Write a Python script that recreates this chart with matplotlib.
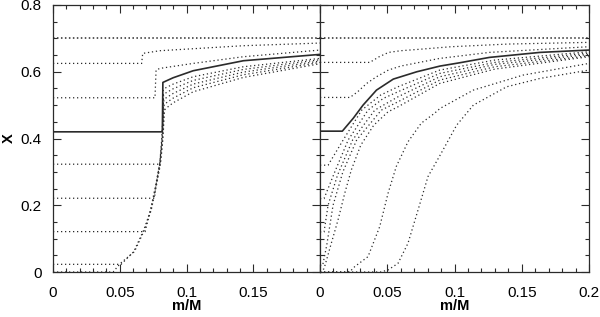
import matplotlib
matplotlib.use("Agg")
import matplotlib.pyplot as plt
from matplotlib.ticker import MultipleLocator, FixedLocator, FixedFormatter

plt.rcParams['font.family'] = ['Liberation Sans', 'DejaVu Sans']

# ---- left panel (sharp profiles) ----
left_top_x = [0.0, 0.2]
left_top_y = [0.70, 0.70]

left_62_x = [0.0, 0.0664, 0.0672, 0.080, 0.1426, 0.2]
left_62_y = [0.625, 0.625, 0.655, 0.663, 0.678, 0.686]

left_52_x = [0.0, 0.0764, 0.0772, 0.080, 0.105, 0.1426, 0.2]
left_52_y = [0.522, 0.522, 0.605, 0.610, 0.625, 0.645, 0.665]

left_solid_x = [0.0, 0.0819, 0.0823, 0.09, 0.105, 0.1426, 0.2]
left_solid_y = [0.420, 0.420, 0.568, 0.582, 0.603, 0.633, 0.652]

left_c1_x = [0.0, 0.0800, 0.0814, 0.0822, 0.0826, 0.0835, 0.09, 0.105, 0.1426, 0.2]
left_c1_y = [0.323, 0.323, 0.396, 0.455, 0.545, 0.550, 0.563, 0.585, 0.615, 0.640]

left_c2_x = [0.0, 0.0760, 0.0770, 0.0800, 0.0816, 0.0824, 0.0828, 0.0838, 0.09, 0.105, 0.1426, 0.2]
left_c2_y = [0.221, 0.221, 0.256, 0.326, 0.396, 0.455, 0.530, 0.535, 0.549, 0.574, 0.607, 0.636]

left_c3_x = [0.0, 0.0690, 0.0730, 0.0767, 0.0800, 0.0818, 0.0826, 0.0830, 0.0840, 0.09, 0.105, 0.1426, 0.2]
left_c3_y = [0.121, 0.121, 0.186, 0.256, 0.326, 0.396, 0.455, 0.515, 0.520, 0.535, 0.563, 0.599, 0.632]

left_c4_x = [0.0, 0.051, 0.0605, 0.068, 0.0733, 0.077, 0.0803, 0.0820, 0.0828, 0.0832, 0.0842, 0.09, 0.105, 0.1426, 0.2]
left_c4_y = [0.023, 0.023, 0.061, 0.126, 0.186, 0.256, 0.326, 0.396, 0.455, 0.500, 0.505, 0.521, 0.552, 0.591, 0.628]

left_c5_x = [0.0, 0.045, 0.0505, 0.0610, 0.0685, 0.0736, 0.0773, 0.0806, 0.0823, 0.0831, 0.0835, 0.0845, 0.09, 0.105, 0.1426, 0.2]
left_c5_y = [0.0, 0.0, 0.026, 0.061, 0.126, 0.186, 0.256, 0.326, 0.396, 0.455, 0.485, 0.490, 0.507, 0.540, 0.583, 0.624]

# ---- right panel (smoothed profiles) ----
right_top_x = [0.0, 0.2]
right_top_y = [0.70, 0.70]

right_62_x = [0.0, 0.037, 0.044, 0.051, 0.060, 0.073, 0.0976, 0.14, 0.2]
right_62_y = [0.628, 0.628, 0.645, 0.658, 0.663, 0.667, 0.675, 0.683, 0.688]

right_52_x = [0.0, 0.0223, 0.028, 0.0347, 0.042, 0.0508, 0.060, 0.089, 0.126, 0.2]
right_52_y = [0.523, 0.523, 0.540, 0.565, 0.585, 0.605, 0.617, 0.640, 0.658, 0.675]

right_solid_x = [0.0, 0.0166, 0.0248, 0.032, 0.042, 0.0545, 0.072, 0.0892, 0.104, 0.126, 0.1636, 0.2]
right_solid_y = [0.422, 0.422, 0.461, 0.500, 0.545, 0.578, 0.600, 0.617, 0.627, 0.643, 0.658, 0.665]

right_c1_x = [0.0, 0.006, 0.0173, 0.031, 0.045, 0.058, 0.089, 0.13, 0.2]
right_c1_y = [0.320, 0.320, 0.396, 0.485, 0.530, 0.555, 0.605, 0.635, 0.660]

right_c2_x = [0.0, 0.003, 0.011, 0.021, 0.0357, 0.047, 0.058, 0.089, 0.13, 0.2]
right_c2_y = [0.220, 0.220, 0.300, 0.396, 0.485, 0.520, 0.540, 0.595, 0.628, 0.656]

right_c3_x = [0.0, 0.003, 0.006, 0.013, 0.0243, 0.0407, 0.058, 0.089, 0.13, 0.2]
right_c3_y = [0.120, 0.120, 0.200, 0.290, 0.396, 0.485, 0.525, 0.585, 0.622, 0.652]

right_c4_x = [0.0, 0.002, 0.005, 0.0097, 0.017, 0.0273, 0.0456, 0.058, 0.089, 0.13, 0.2]
right_c4_y = [0.020, 0.020, 0.080, 0.200, 0.300, 0.396, 0.485, 0.510, 0.575, 0.615, 0.648]

right_c5_x = [0.0, 0.003, 0.0084, 0.0134, 0.0184, 0.0233, 0.0303, 0.040, 0.0506, 0.058, 0.089, 0.13, 0.2]
right_c5_y = [0.0, 0.010, 0.086, 0.156, 0.236, 0.306, 0.380, 0.440, 0.480, 0.495, 0.565, 0.608, 0.645]

right_f1_x = [0.0, 0.022, 0.0258, 0.0357, 0.0444, 0.0506, 0.0567, 0.0654, 0.0753, 0.0853, 0.0892, 0.114, 0.151, 0.2]
right_f1_y = [0.0, 0.0, 0.016, 0.046, 0.136, 0.236, 0.316, 0.390, 0.446, 0.476, 0.490, 0.545, 0.590, 0.625]

right_f2_x = [0.0, 0.045, 0.0506, 0.058, 0.0654, 0.0729, 0.0803, 0.090, 0.1016, 0.114, 0.1388, 0.1636, 0.2]
right_f2_y = [0.0, 0.0, 0.006, 0.026, 0.086, 0.186, 0.286, 0.355, 0.440, 0.500, 0.555, 0.580, 0.605]

x_ticks = [0, 0.05, 0.1, 0.15, 0.2]
x_labels_left = ["0", "0.05", "0.1", "0.15", ""]
x_labels_right = ["0", "0.05", "0.1", "0.15", "0.2"]
y_ticks = [0, 0.2, 0.4, 0.6, 0.8]
y_labels = ["0", "0.2", "0.4", "0.6", "0.8"]

ink = "#2b2b2b"
dot = dict(color=ink, lw=0.9, ls=(0, (1, 2.2)))
dense_dot = dict(color=ink, lw=1.1, ls=(0, (1, 1.6)))
solid = dict(color=ink, lw=1.2, ls="-")

fig = plt.figure(figsize=(6, 3.17), dpi=100)
axL = fig.add_axes([53 / 600, 1 - 272 / 317, 267 / 600, 267 / 317])
axR = fig.add_axes([320 / 600, 1 - 272 / 317, 269 / 600, 267 / 317])

left_dotted = [(left_62_x, left_62_y), (left_52_x, left_52_y),
               (left_c1_x, left_c1_y), (left_c2_x, left_c2_y), (left_c3_x, left_c3_y),
               (left_c4_x, left_c4_y), (left_c5_x, left_c5_y)]
right_dotted = [(right_62_x, right_62_y), (right_52_x, right_52_y),
                (right_c1_x, right_c1_y), (right_c2_x, right_c2_y), (right_c3_x, right_c3_y),
                (right_c4_x, right_c4_y), (right_c5_x, right_c5_y),
                (right_f1_x, right_f1_y), (right_f2_x, right_f2_y)]

for xs, ys in left_dotted:
    axL.plot(xs, ys, **dot)
axL.plot(left_top_x, left_top_y, **dense_dot)
axL.plot(left_solid_x, left_solid_y, **solid)

for xs, ys in right_dotted:
    axR.plot(xs, ys, **dot)
axR.plot(right_top_x, right_top_y, **dense_dot)
axR.plot(right_solid_x, right_solid_y, **solid)

for ax, xl in ((axL, x_labels_left), (axR, x_labels_right)):
    ax.set_xlim(0, 0.2)
    ax.set_ylim(0, 0.8)
    ax.xaxis.set_major_locator(FixedLocator(x_ticks))
    ax.xaxis.set_major_formatter(FixedFormatter(xl))
    ax.xaxis.set_minor_locator(MultipleLocator(0.01))
    ax.yaxis.set_major_locator(FixedLocator(y_ticks))
    ax.yaxis.set_minor_locator(MultipleLocator(0.05))
    ax.tick_params(which="both", direction="in", top=True, right=True,
                   color=ink, width=0.8, labelsize=11)
    ax.tick_params(axis="x", pad=10)
    ax.tick_params(axis="y", pad=8)
    ax.tick_params(which="major", length=6)
    ax.tick_params(which="minor", length=3)
    for s in ax.spines.values():
        s.set_color(ink)
        s.set_linewidth(0.9)
    ax.set_xlabel("m/M", fontsize=10.5, fontweight="bold")
    ax.xaxis.set_label_coords(0.5, -0.1)

axL.yaxis.set_major_formatter(FixedFormatter(y_labels))
axR.yaxis.set_major_formatter(FixedFormatter([""] * 5))
axL.set_ylabel("X", fontsize=10.5, fontweight="bold")
axL.yaxis.set_label_coords(-0.14, 0.5)

fig.savefig("out.png", dpi=100)
